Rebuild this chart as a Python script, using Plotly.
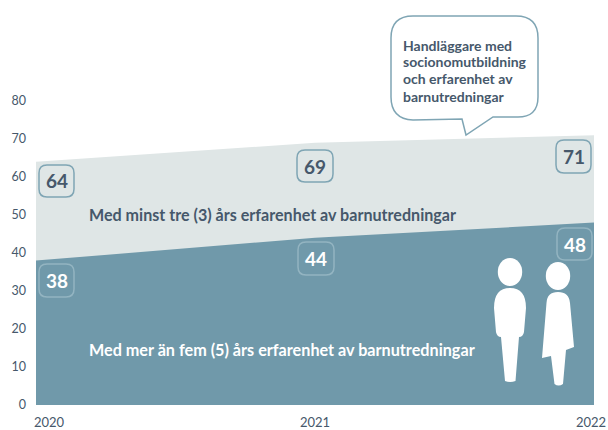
import plotly.graph_objects as go

years = [2020, 2021, 2022]
minst_tre = [64, 69, 71]
mer_an_fem = [38, 44, 48]
y_ticks = [0, 10, 20, 30, 40, 50, 60, 70, 80]
label_tre = "Med minst tre (3) års erfarenhet av barnutredningar"
label_fem = "Med mer än fem (5) års erfarenhet av barnutredningar"
callout_lines = ["Handläggare med", "socionomutbildning", "och erfarenhet av", "barnutredningar"]

W, H = 608, 430
L, R, T, B = 36, 14, 101, 25
DARK = "#7099AA"
LIGHT = "#DFE6E6"
TEXT = "#46586B"
BORDER = "#7FA5B4"
FONT = "Lato"


def px(x):
    return (x - L) / (W - L - R)


def py(y):
    return 1 - (y - T) / (H - T - B)


def rrect(x0, y0, x1, y1, r):
    return (
        f"M{px(x0+r):.5f},{py(y0):.5f} L{px(x1-r):.5f},{py(y0):.5f} "
        f"Q{px(x1):.5f},{py(y0):.5f} {px(x1):.5f},{py(y0+r):.5f} "
        f"L{px(x1):.5f},{py(y1-r):.5f} Q{px(x1):.5f},{py(y1):.5f} {px(x1-r):.5f},{py(y1):.5f} "
        f"L{px(x0+r):.5f},{py(y1):.5f} Q{px(x0):.5f},{py(y1):.5f} {px(x0):.5f},{py(y1-r):.5f} "
        f"L{px(x0):.5f},{py(y0+r):.5f} Q{px(x0):.5f},{py(y0):.5f} {px(x0+r):.5f},{py(y0):.5f} Z"
    )


fig = go.Figure()
fig.add_trace(go.Scatter(x=years, y=minst_tre, mode="lines", fill="tozeroy",
                         line=dict(width=0, color=LIGHT), fillcolor=LIGHT,
                         hoverinfo="skip", showlegend=False))
fig.add_trace(go.Scatter(x=years, y=mer_an_fem, mode="lines", fill="tozeroy",
                         line=dict(width=0, color=DARK), fillcolor=DARK,
                         hoverinfo="skip", showlegend=False))

shapes = []
annotations = []


def paper_shape(d, fill="rgba(0,0,0,0)", line=None, width=0):
    shapes.append(dict(type="path", xref="paper", yref="paper", path=d, fillcolor=fill,
                       line=dict(color=line or "rgba(0,0,0,0)", width=width), layer="above"))


# value badges: pixel box around the label
upper_boxes = [(39, 165, 74, 197), (297, 150, 333, 182), (556, 140, 591, 173)]
lower_boxes = [(39, 264, 74, 297), (298, 242, 334, 275), (557, 228, 592, 260)]
for values, boxes, col, border in [
    (minst_tre, upper_boxes, TEXT, BORDER),
    (mer_an_fem, lower_boxes, "white", "#93B4C1"),
]:
    for val, box in zip(values, boxes):
        paper_shape(rrect(*box, 8), line=border, width=1.5)
        annotations.append(dict(xref="paper", yref="paper",
                                x=px((box[0] + box[2]) / 2), y=py((box[1] + box[3]) / 2),
                                text=f"<b>{val}</b>", showarrow=False,
                                font=dict(family=FONT, size=19, color=col),
                                xanchor="center", yanchor="middle"))

# x tick labels
for yr, anchor, xs in zip(years, ["left", "center", "right"], [33, 315, 607]):
    annotations.append(dict(xref="paper", yref="paper", x=px(xs), y=py(421.5), text=str(yr),
                            showarrow=False, xanchor=anchor, yanchor="middle", borderpad=0,
                            font=dict(family=FONT, size=13, color=TEXT)))

# series labels
for text, yc, col, size in [(label_tre, 214, TEXT, 16.1), (label_fem, 349, "white", 16.2)]:
    annotations.append(dict(xref="paper", yref="paper", x=px(87), y=py(yc), text=f"<b>{text}</b>",
                            showarrow=False, xanchor="left", yanchor="middle",
                            font=dict(family=FONT, size=size, color=col)))

# speech bubble
x0, y0, x1, y1, r = 391, 16, 538, 119, 22
bubble = (
    f"M{px(x0+r):.5f},{py(y0):.5f} L{px(x1-r):.5f},{py(y0):.5f} "
    f"Q{px(x1):.5f},{py(y0):.5f} {px(x1):.5f},{py(y0+r):.5f} "
    f"L{px(x1):.5f},{py(y1-r):.5f} Q{px(x1):.5f},{py(y1-1):.5f} {px(x1-r):.5f},{py(y1-2):.5f} "
    f"L{px(493):.5f},{py(117):.5f} L{px(466):.5f},{py(135):.5f} L{px(462):.5f},{py(119):.5f} "
    f"L{px(x0+r):.5f},{py(120):.5f} Q{px(x0):.5f},{py(y1):.5f} {px(x0):.5f},{py(y1-r):.5f} "
    f"L{px(x0):.5f},{py(y0+r):.5f} Q{px(x0):.5f},{py(y0):.5f} {px(x0+r):.5f},{py(y0):.5f} Z"
)
paper_shape(bubble, fill="white", line=BORDER, width=1.5)
for line, yc in zip(callout_lines, [45, 62, 79, 96]):
    annotations.append(dict(xref="paper", yref="paper", x=px(401), y=py(yc),
                            text=f"<b>{line}</b>", showarrow=False, align="left",
                            xanchor="left", yanchor="middle",
                            font=dict(family=FONT, size=14, color=TEXT)))

# people pictograms
for cx, cy in [(510, 272), (558, 276)]:
    shapes.append(dict(type="circle", xref="paper", yref="paper",
                       x0=px(cx - 12.2), x1=px(cx + 12.2), y0=py(cy + 14), y1=py(cy - 14),
                       fillcolor="white", line=dict(width=0), layer="above"))
man = (
    f"M{px(510):.5f},{py(288):.5f} Q{px(526):.5f},{py(288):.5f} {px(526):.5f},{py(308):.5f} "
    f"L{px(524):.5f},{py(332):.5f} Q{px(523):.5f},{py(337):.5f} {px(519):.5f},{py(337):.5f} "
    f"L{px(515.5):.5f},{py(381):.5f} Q{px(510):.5f},{py(383):.5f} {px(505):.5f},{py(381):.5f} "
    f"L{px(501):.5f},{py(337):.5f} Q{px(497):.5f},{py(337):.5f} {px(496):.5f},{py(332):.5f} "
    f"L{px(494):.5f},{py(308):.5f} Q{px(494):.5f},{py(288):.5f} {px(510):.5f},{py(288):.5f} Z"
)
paper_shape(man, fill="white")
woman = (
    f"M{px(558):.5f},{py(292):.5f} Q{px(569):.5f},{py(292):.5f} {px(570):.5f},{py(303):.5f} "
    f"L{px(574):.5f},{py(347):.5f} L{px(566):.5f},{py(350):.5f} L{px(563):.5f},{py(384):.5f} "
    f"Q{px(558.5):.5f},{py(387):.5f} {px(554.5):.5f},{py(384):.5f} L{px(551):.5f},{py(356):.5f} "
    f"L{px(542):.5f},{py(358):.5f} L{px(546.5):.5f},{py(303):.5f} "
    f"Q{px(547):.5f},{py(292):.5f} {px(558):.5f},{py(292):.5f} Z"
)
paper_shape(woman, fill="white")

fig.update_layout(
    width=W, height=H, autosize=False,
    margin=dict(l=L, r=R, t=T, b=B, pad=0),
    paper_bgcolor="white", plot_bgcolor="white",
    showlegend=False, shapes=shapes, annotations=annotations,
    xaxis=dict(range=[2020, 2022], showgrid=False, zeroline=False, showticklabels=False,
               ticks="", showline=False, fixedrange=True),
    yaxis=dict(range=[0, 80], tickvals=y_ticks, showgrid=False, zeroline=False, ticks="",
               showline=False, ticklabelstandoff=9, fixedrange=True,
               tickfont=dict(family=FONT, size=12.5, color=TEXT)),
)
fig.write_html("out.html", config=dict(displayModeBar=False),
               post_script="document.body.style.margin='0';document.documentElement.style.overflow='hidden';")
